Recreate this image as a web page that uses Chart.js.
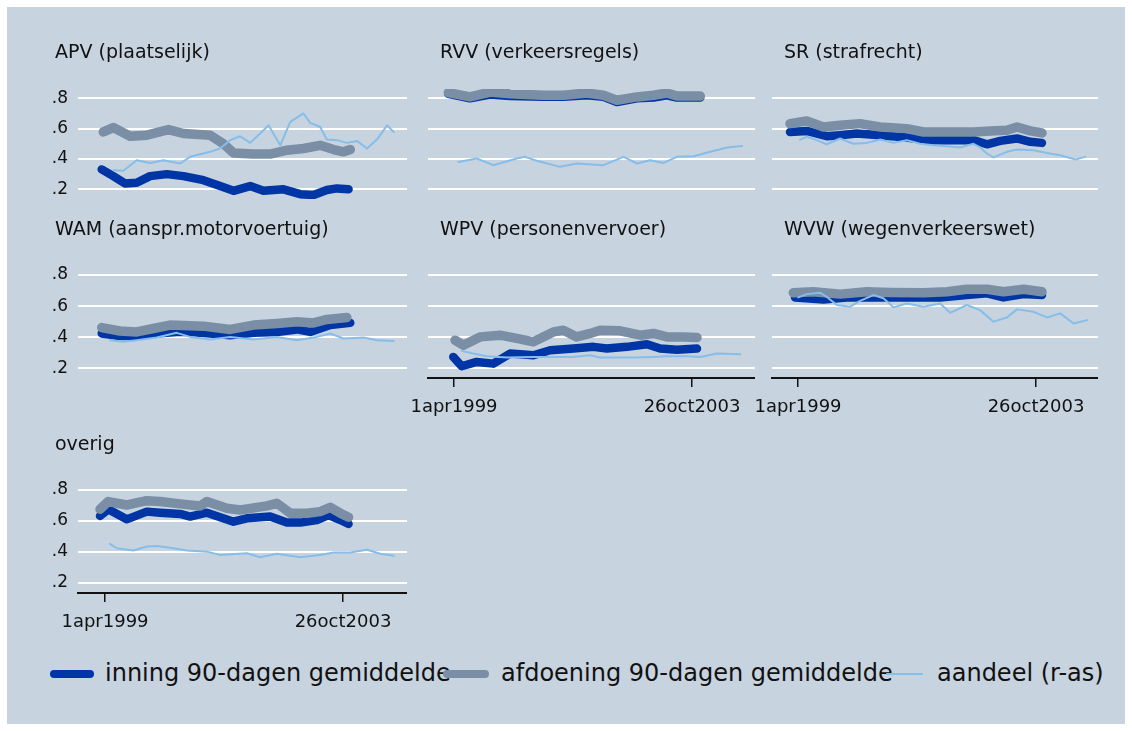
<!DOCTYPE html>
<html>
<head>
<meta charset="utf-8">
<script src="https://cdn.jsdelivr.net/npm/chart.js@4.4.1/dist/chart.umd.min.js"></script>
<style>
  body { margin: 0; width: 1132px; height: 731px; background: #fff; position: relative; overflow: hidden; font-family: 'DejaVu Sans', sans-serif; color: #111; }
  #frame { position: absolute; left: 7px; top: 7px; width: 1118px; height: 717px; background: #c7d3df; }
  canvas { position: absolute; }
  .swatch { position: absolute; }
  .legtext { position: absolute; font-size: 24px; line-height: 28px; white-space: nowrap; }
</style>
</head>
<body>
<div id="frame"></div>
<script>
// x values are days since 1apr1999
const dayTicks = [0, 1669];
const dayLabels = ['1apr1999', '26oct2003'];
const yTicks = [0.2, 0.4, 0.6, 0.8];

const seriesNames = ['inning 90-dagen gemiddelde', 'afdoening 90-dagen gemiddelde', 'aandeel (r-as)'];
const seriesColors = ['#0035a6', '#7a8fa5', '#86bde9'];

const apvInning = [[-23,0.331],[58,0.287],[140,0.239],[222,0.243],[316,0.287],[433,0.300],[550,0.287],[690,0.260],[807,0.221],[901,0.190],[1018,0.221],[1111,0.190],[1252,0.200],[1369,0.168],[1462,0.162],[1556,0.195],[1626,0.206],[1708,0.200]];
const apvAfdoening = [[-12,0.578],[58,0.607],[176,0.550],[293,0.557],[445,0.594],[550,0.568],[737,0.557],[830,0.500],[901,0.440],[1041,0.432],[1158,0.432],[1275,0.458],[1392,0.469],[1509,0.490],[1603,0.462],[1673,0.447],[1720,0.462]];
const apvAandeel = [[58,0.326],[129,0.322],[222,0.392],[316,0.374],[409,0.392],[527,0.370],[597,0.414],[737,0.447],[807,0.469],[878,0.524],[948,0.550],[1018,0.506],[1088,0.568],[1147,0.622],[1229,0.490],[1299,0.644],[1392,0.700],[1439,0.638],[1509,0.611],[1556,0.528],[1626,0.524],[1696,0.506],[1767,0.519],[1837,0.469],[1907,0.528],[1978,0.622],[2024,0.578]];

const rvvInning = [[-40,0.830],[112,0.800],[253,0.825],[393,0.815],[627,0.810],[767,0.810],[931,0.820],[1048,0.810],[1142,0.775],[1283,0.800],[1399,0.805],[1493,0.820],[1563,0.805],[1727,0.805]];
const rvvAfdoening = [[-40,0.837],[112,0.809],[253,0.841],[393,0.830],[627,0.820],[767,0.820],[931,0.835],[1048,0.820],[1142,0.787],[1283,0.809],[1399,0.820],[1493,0.835],[1563,0.815],[1727,0.815]];
const rvvAandeel = [[30,0.380],[159,0.403],[276,0.359],[440,0.403],[498,0.414],[580,0.388],[744,0.348],[861,0.370],[1048,0.359],[1189,0.414],[1283,0.370],[1376,0.392],[1469,0.374],[1563,0.414],[1680,0.418],[1797,0.447],[1914,0.476],[2020,0.485]];

const srInning = [[-56,0.578],[61,0.585],[201,0.550],[295,0.557],[412,0.568],[576,0.557],[763,0.541],[903,0.524],[1044,0.524],[1231,0.524],[1325,0.497],[1418,0.519],[1535,0.535],[1629,0.513],[1711,0.506]];
const srAfdoening = [[-56,0.633],[61,0.651],[178,0.611],[295,0.622],[435,0.633],[576,0.611],[763,0.600],[880,0.578],[997,0.578],[1231,0.578],[1348,0.585],[1465,0.589],[1535,0.611],[1629,0.585],[1711,0.572]];
const srAandeel = [[14,0.528],[61,0.546],[131,0.524],[201,0.497],[295,0.535],[388,0.500],[482,0.506],[576,0.528],[669,0.506],[763,0.524],[856,0.500],[950,0.490],[1044,0.484],[1137,0.476],[1231,0.500],[1278,0.476],[1325,0.436],[1371,0.410],[1465,0.447],[1535,0.462],[1652,0.458],[1746,0.440],[1839,0.425],[1945,0.397],[2015,0.414]];

const wamInning = [[-23,0.424],[105,0.407],[222,0.407],[363,0.424],[503,0.434],[597,0.434],[737,0.424],[878,0.413],[1041,0.428],[1205,0.434],[1346,0.450],[1439,0.434],[1580,0.478],[1720,0.492]];
const wamAfdoening = [[-23,0.462],[105,0.440],[222,0.434],[339,0.456],[456,0.478],[690,0.471],[878,0.450],[1041,0.478],[1205,0.488],[1346,0.499],[1462,0.492],[1556,0.514],[1696,0.527]];
const wamAandeel = [[35,0.381],[129,0.370],[222,0.381],[363,0.398],[503,0.428],[597,0.402],[737,0.385],[878,0.402],[1041,0.385],[1205,0.402],[1346,0.381],[1486,0.402],[1580,0.424],[1673,0.392],[1814,0.398],[1907,0.381],[2024,0.376]];

const wpvInning = [[-5,0.273],[54,0.213],[159,0.241],[276,0.230],[393,0.295],[557,0.284],[674,0.316],[837,0.327],[978,0.338],[1072,0.327],[1212,0.338],[1353,0.355],[1446,0.327],[1563,0.320],[1704,0.327]];
const wpvAfdoening = [[7,0.381],[65,0.348],[183,0.402],[323,0.413],[440,0.392],[557,0.370],[697,0.434],[767,0.445],[861,0.402],[955,0.424],[1025,0.445],[1165,0.441],[1306,0.413],[1399,0.424],[1493,0.402],[1610,0.402],[1704,0.398]];
const wpvAandeel = [[54,0.312],[136,0.295],[230,0.277],[370,0.269],[557,0.273],[674,0.273],[837,0.273],[955,0.284],[1025,0.269],[1259,0.269],[1399,0.273],[1493,0.277],[1633,0.277],[1727,0.273],[1844,0.295],[2008,0.290]];

const wvwInning = [[-21,0.656],[178,0.643],[342,0.656],[529,0.656],[763,0.656],[997,0.656],[1184,0.671],[1325,0.682],[1441,0.656],[1582,0.677],[1711,0.671]];
const wvwAfdoening = [[-33,0.686],[108,0.692],[295,0.677],[482,0.692],[646,0.688],[880,0.686],[1044,0.692],[1184,0.708],[1325,0.708],[1441,0.692],[1582,0.708],[1711,0.692]];
const wvwAandeel = [[2,0.656],[61,0.677],[154,0.686],[201,0.660],[272,0.607],[365,0.596],[435,0.634],[529,0.671],[599,0.650],[669,0.592],[763,0.617],[880,0.596],[997,0.617],[1067,0.557],[1184,0.607],[1278,0.574],[1371,0.500],[1465,0.527],[1535,0.579],[1652,0.563],[1746,0.527],[1839,0.553],[1933,0.488],[2027,0.510]];

const overigInning = [[-35,0.632],[23,0.675],[152,0.610],[293,0.660],[386,0.653],[527,0.645],[597,0.628],[714,0.653],[901,0.595],[995,0.617],[1158,0.628],[1275,0.589],[1369,0.589],[1486,0.606],[1568,0.638],[1650,0.606],[1708,0.580]];
const overigAfdoening = [[-35,0.675],[23,0.725],[152,0.703],[293,0.731],[386,0.725],[527,0.710],[667,0.697],[714,0.725],[854,0.682],[948,0.671],[1135,0.697],[1205,0.714],[1299,0.650],[1416,0.650],[1509,0.660],[1580,0.688],[1650,0.650],[1708,0.624]];
const overigAandeel = [[35,0.451],[82,0.423],[199,0.408],[293,0.434],[363,0.438],[480,0.423],[574,0.408],[714,0.401],[807,0.380],[995,0.391],[1088,0.365],[1205,0.387],[1369,0.365],[1509,0.380],[1603,0.395],[1720,0.395],[1837,0.413],[1931,0.387],[2024,0.374]];

const panels = [
  { title: 'APV (plaatselijk)', row: 0, col: 0, xAxis: false, series: [apvInning, apvAfdoening, apvAandeel] },
  { title: 'RVV (verkeersregels)', row: 0, col: 1, xAxis: false, series: [rvvInning, rvvAfdoening, rvvAandeel] },
  { title: 'SR (strafrecht)', row: 0, col: 2, xAxis: false, series: [srInning, srAfdoening, srAandeel] },
  { title: 'WAM (aanspr.motorvoertuig)', row: 1, col: 0, xAxis: false, series: [wamInning, wamAfdoening, wamAandeel] },
  { title: 'WPV (personenvervoer)', row: 1, col: 1, xAxis: true, series: [wpvInning, wpvAfdoening, wpvAandeel] },
  { title: 'WVW (wegenverkeerswet)', row: 1, col: 2, xAxis: true, series: [wvwInning, wvwAfdoening, wvwAandeel] },
  { title: 'overig', row: 2, col: 0, xAxis: true, series: [overigInning, overigAfdoening, overigAandeel] }
];

// layout (pixels)
const colLeft = [78, 428, 772];
const colWidth = [329, 327, 326];
const titleOffset = [-23, 12, 12];
const tickOffset = [27, 26, 26];
const pxPerDay = 238 / 1669;
const rowTop = [89, 266, 481];
const rowBottom = [199, 378, 593];
const rowGrid = [[98.3, 189.3], [275, 368.3], [490, 582.7]];
const leftSpace = 35;
const titleSpace = 50;
const xAxisSpace = 45;
const lineWidths = [8.5, 9.5, 2];
const font = 'DejaVu Sans';
const ink = '#111';

const titlePlugin = {
  id: 'panelTitle',
  afterDraw(chart, args, opts) {
    const ctx = chart.ctx;
    ctx.save();
    ctx.fillStyle = ink;
    ctx.font = '19px "' + font + '"';
    ctx.textBaseline = 'middle';
    ctx.fillText(opts.text, chart.chartArea.left + opts.dx, titleSpace - 36);
    ctx.restore();
  }
};

panels.forEach(p => {
  const xH = p.xAxis ? xAxisSpace : 0;
  const plotH = rowBottom[p.row] - rowTop[p.row];
  const canvas = document.createElement('canvas');
  canvas.width = leftSpace + colWidth[p.col];
  canvas.height = titleSpace + plotH + xH;
  canvas.style.left = (colLeft[p.col] - leftSpace) + 'px';
  canvas.style.top = (rowTop[p.row] - titleSpace) + 'px';
  document.body.appendChild(canvas);

  const g = rowGrid[p.row];
  const perPx = 0.6 / (g[1] - g[0]);
  const yMax = 0.8 + (g[0] - rowTop[p.row]) * perPx;
  const yMin = 0.2 - (rowBottom[p.row] - g[1]) * perPx;
  const xMin = -tickOffset[p.col] / pxPerDay;
  const xMax = (colWidth[p.col] - tickOffset[p.col]) / pxPerDay;

  new Chart(canvas, {
    type: 'line',
    data: {
      datasets: p.series.map((s, i) => ({
        label: seriesNames[i],
        data: s.map(d => ({ x: d[0], y: d[1] })),
        borderColor: seriesColors[i],
        borderWidth: lineWidths[i],
        borderCapStyle: 'round',
        borderJoinStyle: 'round',
        pointRadius: 0,
        tension: 0,
        fill: false,
        order: 3 - i
      }))
    },
    options: {
      responsive: false,
      animation: false,
      devicePixelRatio: 1,
      layout: { padding: { top: titleSpace, left: 0, right: 0, bottom: 0 } },
      scales: {
        x: {
          type: 'linear',
          min: xMin,
          max: xMax,
          display: p.xAxis,
          afterBuildTicks: s => { s.ticks = dayTicks.map(v => ({ value: v })); },
          afterFit: s => { s.height = xH; s.paddingLeft = 0; s.paddingRight = 0; },
          grid: { display: true, drawOnChartArea: false, drawTicks: true, tickLength: 9, color: ink, lineWidth: 1.5 },
          border: { display: true, color: ink, width: 2 },
          ticks: {
            autoSkip: false, maxRotation: 0, padding: 10, color: ink,
            font: { family: font, size: 18 },
            callback: (v, i) => dayLabels[i]
          }
        },
        y: {
          min: yMin,
          max: yMax,
          afterBuildTicks: s => { s.ticks = yTicks.map(v => ({ value: v })); },
          afterFit: s => { s.width = leftSpace; s.paddingTop = 0; s.paddingBottom = 0; },
          grid: { color: '#ffffff', lineWidth: 2, drawTicks: false },
          border: { display: false },
          ticks: {
            display: p.col === 0, autoSkip: false, padding: 10, color: ink,
            font: { family: font, size: 17 },
            callback: v => v.toFixed(1).replace(/^0/, '')
          }
        }
      },
      plugins: {
        legend: { display: false },
        tooltip: { enabled: false },
        panelTitle: { text: p.title, dx: titleOffset[p.col] }
      }
    },
    plugins: [titlePlugin]
  });
});

// legend
const legendY = 674;
const legendItems = [
  { x1: 50, x2: 94, tx: 105 },
  { x1: 443, x2: 489, tx: 501 },
  { x1: 886, x2: 923, tx: 937 }
];
legendItems.forEach((it, i) => {
  const sw = document.createElement('div');
  sw.className = 'swatch';
  const h = i === 2 ? 2 : 8;
  sw.style.left = it.x1 + 'px';
  sw.style.top = (legendY - h / 2) + 'px';
  sw.style.width = (it.x2 - it.x1) + 'px';
  sw.style.height = h + 'px';
  sw.style.borderRadius = (h / 2) + 'px';
  sw.style.background = seriesColors[i];
  document.body.appendChild(sw);
  const t = document.createElement('div');
  t.className = 'legtext';
  t.textContent = seriesNames[i];
  t.style.left = it.tx + 'px';
  t.style.top = (legendY - 15) + 'px';
  document.body.appendChild(t);
});
</script>
</body>
</html>
